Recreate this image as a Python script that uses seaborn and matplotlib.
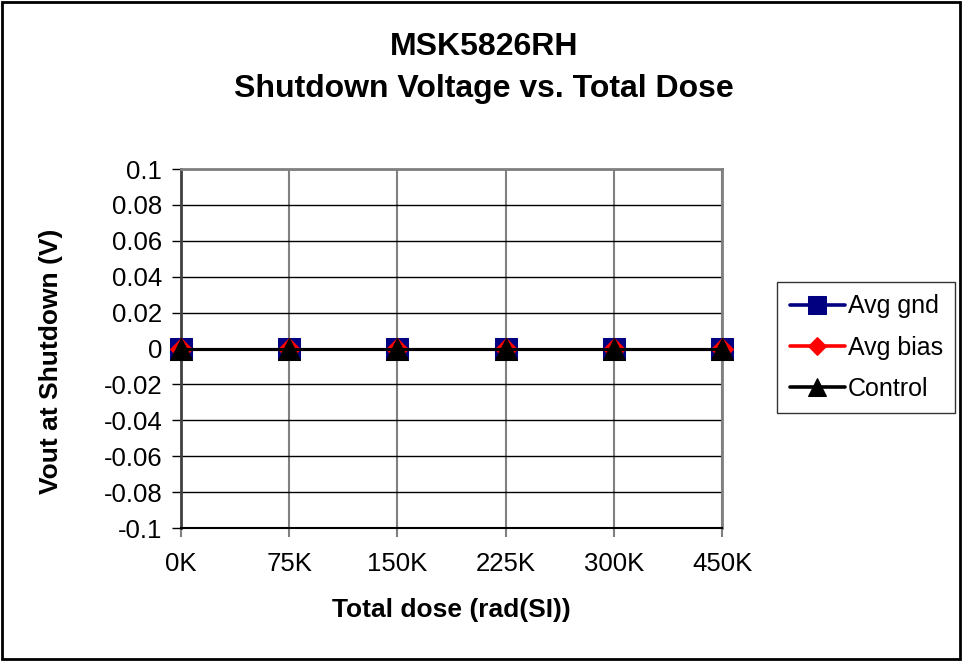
import pandas as pd
import seaborn as sns
import matplotlib.pyplot as plt
from matplotlib.patches import Rectangle

# data
doses = ['0K', '75K', '150K', '225K', '300K', '450K']
avg_gnd = [0, 0, 0, 0, 0, 0]
avg_bias = [0, 0, 0, 0, 0, 0]
control = [0, 0, 0, 0, 0, 0]
y_ticks = [-0.1, -0.08, -0.06, -0.04, -0.02, 0, 0.02, 0.04, 0.06, 0.08, 0.1]
y_tick_labels = ['-0.1', '-0.08', '-0.06', '-0.04', '-0.02', '0',
                 '0.02', '0.04', '0.06', '0.08', '0.1']

if __name__ == '__main__':
    data = pd.DataFrame({'dose': doses, 'Avg gnd': avg_gnd,
                         'Avg bias': avg_bias, 'Control': control})

    sns.set_style('white')
    plt.rcParams['font.family'] = ['Liberation Sans', 'DejaVu Sans']
    plt.rcParams['text.color'] = 'black'
    plt.rcParams['axes.labelcolor'] = 'black'
    fig = plt.figure(figsize=(9.64, 6.62), dpi=100)
    ax = fig.add_axes([0.1878, 0.2024, 0.5612, 0.5423])

    # draw the three series, markers on top of each other
    sns.lineplot(data=data, x='dose', y='Avg gnd', ax=ax, color='#000080',
                 marker='s', markersize=16, markeredgecolor='#000080',
                 linewidth=2.2, label='Avg gnd', clip_on=False, zorder=3)
    sns.lineplot(data=data, x='dose', y='Avg bias', ax=ax, color='#ff0000',
                 marker='D', markersize=11.3, markeredgecolor='#ff0000',
                 linewidth=2.2, label='Avg bias', clip_on=False, zorder=4)
    sns.lineplot(data=data, x='dose', y='Control', ax=ax, color='black',
                 marker='^', markersize=16, markeredgecolor='black',
                 linewidth=2.2, label='Control', clip_on=False, zorder=5)

    ax.set_xlim(0, len(doses) - 1)
    ax.set_ylim(-0.1, 0.1)
    ax.set_yticks(y_ticks)
    ax.set_yticklabels(y_tick_labels)
    ax.yaxis.grid(True, color='black', linewidth=1)
    ax.xaxis.grid(True, color='#808080', linewidth=1.5)
    ax.set_axisbelow(True)
    ax.tick_params(axis='y', left=True, length=6.5, width=1, color='black',
                   labelcolor='black', labelsize=18.5, pad=7)
    ax.tick_params(axis='x', bottom=True, length=6.5, width=1.5, color='#808080',
                   labelcolor='black', labelsize=18.5, pad=11)
    for side in ['top', 'right']:
        ax.spines[side].set_color('#808080')
        ax.spines[side].set_linewidth(2)
    ax.spines['left'].set_color('#404040')
    ax.spines['left'].set_linewidth(2)
    ax.spines['bottom'].set_color('black')
    ax.spines['bottom'].set_linewidth(1.5)

    ax.set_xlabel('Total dose (rad(SI))', fontsize=19, fontweight='bold')
    ax.set_ylabel('Vout at Shutdown (V)', fontsize=19, fontweight='bold')
    ax.xaxis.set_label_coords(0.5, -0.195)
    ax.yaxis.set_label_coords(-0.218, 0.465)

    fig.text(0.502, 1 - 55 / 662, 'MSK5826RH', ha='center', va='baseline',
             fontsize=23, fontweight='bold')
    fig.text(0.502, 1 - 97 / 662, 'Shutdown Voltage vs. Total Dose', ha='center',
             va='baseline', fontsize=23, fontweight='bold')

    leg = ax.legend(loc='upper left', bbox_to_anchor=(777 / 964, 1 - 282 / 662),
                    bbox_transform=fig.transFigure, borderaxespad=0, fontsize=18,
                    frameon=True, fancybox=False, edgecolor='black', handlelength=2.2,
                    handletextpad=0.12, borderpad=0.5, labelspacing=0.68, markerscale=0.85)
    leg.get_frame().set_linewidth(1)
    for line in leg.get_lines():
        line.set_linewidth(2.6)

    fig.patches.append(Rectangle((0.002, 0.004), 0.994, 0.993, transform=fig.transFigure,
                                 fill=False, edgecolor='black', linewidth=2))

    fig.savefig('out.png', dpi=100)
